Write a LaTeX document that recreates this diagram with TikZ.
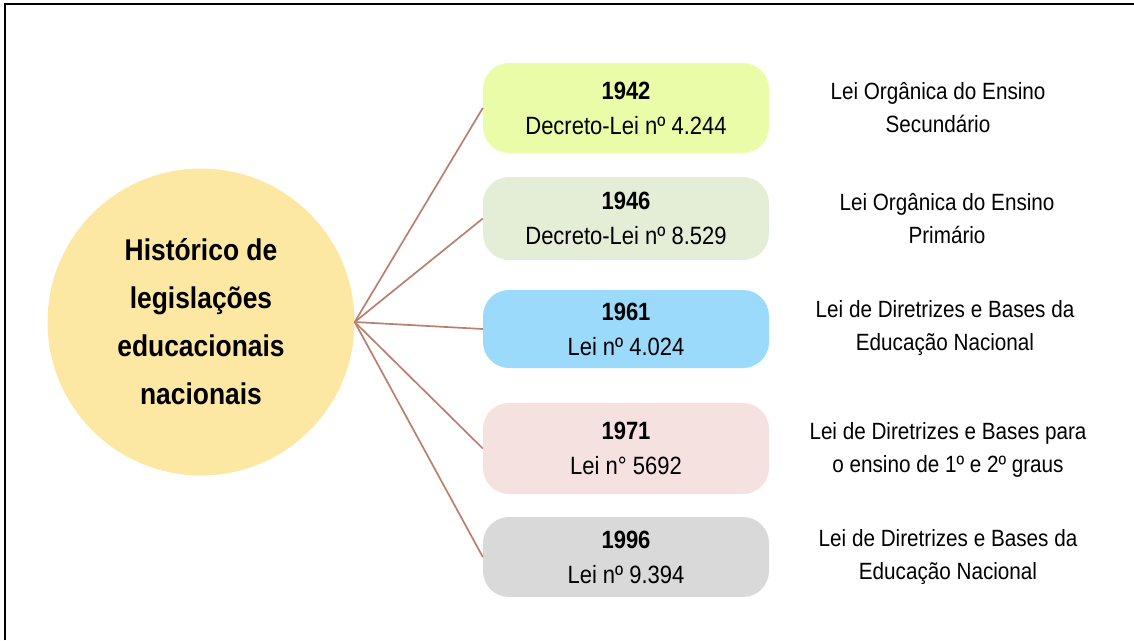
\documentclass[tikz,border=0pt]{standalone}
\usepackage{fontspec}
\setmainfont{Liberation Sans}[FakeStretch=0.88]
\usetikzlibrary{positioning}
\definecolor{hubfill}{HTML}{FCE8A3}
\definecolor{linkcol}{HTML}{B8806F}
\definecolor{c1942}{HTML}{EAFCA8}
\definecolor{c1946}{HTML}{E4EED6}
\definecolor{c1961}{HTML}{9BDAFB}
\definecolor{c1971}{HTML}{F4E1E0}
\definecolor{c1996}{HTML}{D9D9D9}

\begin{document}
\begin{tikzpicture} [x=1pt, y=-1pt,
		hub/.style={circle, fill=hubfill, minimum size=307pt, inner sep=0pt, align=center, font=\fontsize{30}{48}\selectfont\bfseries},
		law/.style={rounded corners=26pt, minimum width=286pt, align=center, font=\fontsize{25}{35}\selectfont},
		note/.style={align=center, font=\fontsize{23.5}{33}\selectfont},
		link/.style={draw=linkcol, line width=1.7pt}]
		\useasboundingbox (0,0) rectangle (1134,640);
		\draw [line width=2.2pt] (5,640) -- (5,4) -- (1134,4);
		\node (hist) [hub] at (201,322) {Histórico de\\legislações\\educacionais\\nacionais};
		\node (l1942) [law, fill=c1942, minimum height=90pt] at (626,108) {\textbf{1942}\\Decreto-Lei nº 4.244};
		\node (l1946) [law, fill=c1946, minimum height=83pt] at (626,218.5) {\textbf{1946}\\Decreto-Lei nº 8.529};
		\node (l1961) [law, fill=c1961, minimum height=78pt] at (626,329) {\textbf{1961}\\Lei nº 4.024};
		\node (l1971) [law, fill=c1971, minimum height=91pt] at (626,448.5) {\textbf{1971}\\Lei n° 5692};
		\node (l1996) [law, fill=c1996, minimum height=80pt] at (626,557) {\textbf{1996}\\Lei nº 9.394};
		\node (d1942) [note] at (938,108) {Lei Orgânica do Ensino\\Secundário};
		\node (d1946) [note] at (947,218.5) {Lei Orgânica do Ensino\\Primário};
		\node (d1961) [note] at (945,327.5) {Lei de Diretrizes e Bases da\\Educação Nacional};
		\node (d1971) [note] at (948,449.5) {Lei de Diretrizes e Bases para\\o ensino de 1º e 2º graus};
		\node (d1996) [note] at (948,557) {Lei de Diretrizes e Bases da\\Educação Nacional};
		\path [link]
		(hist.east) edge (l1942.west)
		(hist.east) edge (l1946.west)
		(hist.east) edge (l1961.west)
		(hist.east) edge (l1971.west)
		(hist.east) edge (l1996.west)
		;
	\end{tikzpicture}
\end{document}
